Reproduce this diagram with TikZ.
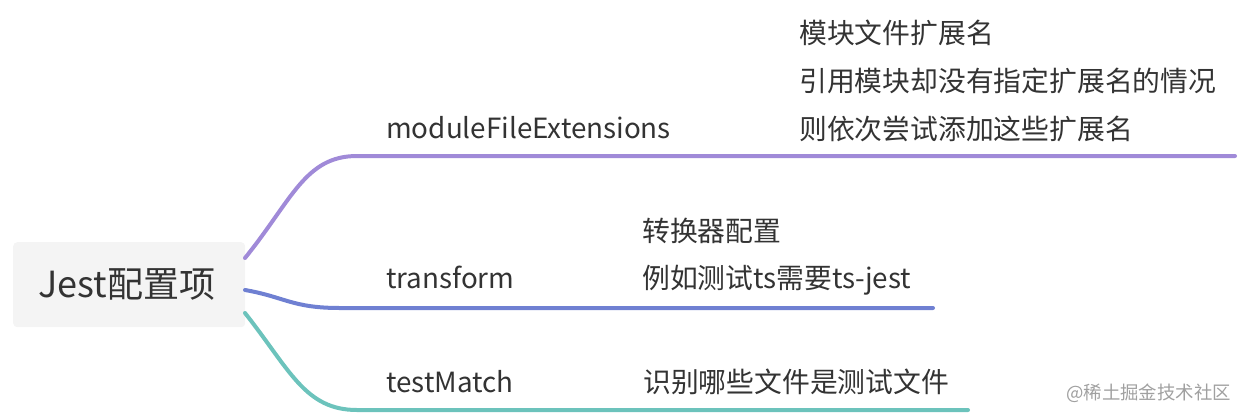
\documentclass[tikz,border=0pt]{standalone}
\usepackage{fontspec}
\setmainfont{Noto Sans CJK SC}
\definecolor{txt}{HTML}{333333}
\definecolor{rootfill}{HTML}{F4F4F4}
\definecolor{cpurple}{HTML}{A08AD8}
\definecolor{cblue}{HTML}{6F80D2}
\definecolor{cteal}{HTML}{6CC3BC}
\definecolor{wm}{HTML}{A0A0A0}
\tikzset{
  rootbox/.style={fill=rootfill, rounded corners=4pt, draw=none},
  roottext/.style={text=txt, font=\fontsize{36}{40}\selectfont, inner sep=0pt, anchor=base},
  lbl/.style={text=txt, font=\fontsize{27.8}{32}\selectfont, inner sep=0pt, anchor=base west},
  branch/.style={line width=4pt, line cap=round},
}
\begin{document}
\begin{tikzpicture}[x=1pt,y=-1pt]
\useasboundingbox (0,0) rectangle (1244,416);
\node[rootbox, minimum width=232pt, minimum height=85pt, anchor=north west] (root) at (13,242) {};
\node[roottext] (roottxt) at (127,297) {Jest配置项};
% branch endpoints
\coordinate (p1) at (245,258);
\coordinate (p2) at (245,290);
\coordinate (p3) at (245,313);
\coordinate (e1) at (1235,156);
\coordinate (e2) at (933,308);
\coordinate (e3) at (968,410);
\draw[branch, draw=cpurple] (p1) .. controls (292,200) and (305,156) .. (357,156) -- (e1);
\draw[branch, draw=cblue] (p2) .. controls (285,297) and (292,308) .. (340,308) -- (e2);
\draw[branch, draw=cteal] (p3) .. controls (290,370) and (305,410) .. (357,410) -- (e3);
% labels
\node[lbl] (l1) at (386,138) {moduleFileExtensions};
\node[lbl] (l2) at (386,288) {transform};
\node[lbl] (l3) at (386,392) {testMatch};
% notes
\node[lbl] (n1a) at (799,43) {模块文件扩展名};
\node[lbl] (n1b) at (799,91) {引用模块却没有指定扩展名的情况};
\node[lbl] (n1c) at (799,139) {则依次尝试添加这些扩展名};
\node[lbl] (n2a) at (642,241) {转换器配置};
\node[lbl] (n2b) at (642,288) {例如测试ts需要ts-jest};
\node[lbl] (n3) at (643,392) {识别哪些文件是测试文件};
% watermark
\node[text=wm, font=\fontsize{18.4}{20}\selectfont, inner sep=0pt, anchor=base east] (wmk) at (1231,399) {@稀土掘金技术社区};
\end{tikzpicture}
\end{document}
